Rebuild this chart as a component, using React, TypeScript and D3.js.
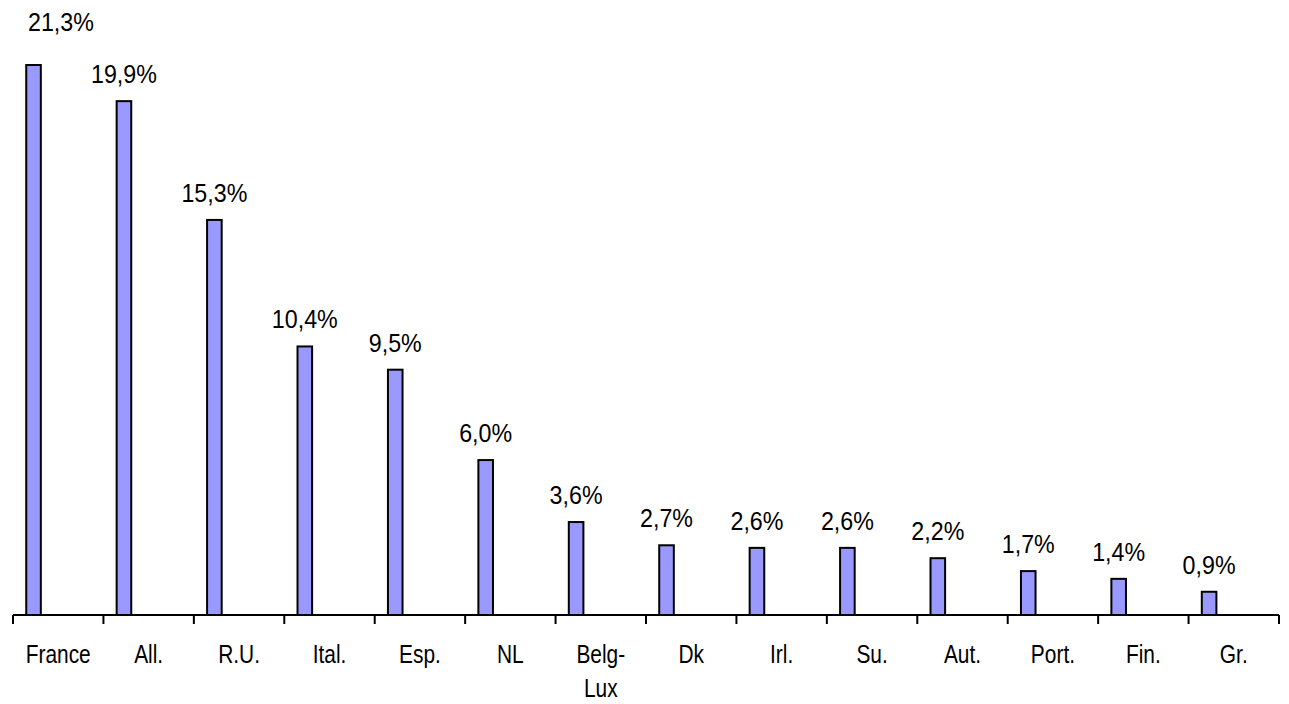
import React from "react";
import * as d3 from "d3";

// Share by country (%)
const categories: string[][] = [
  ["France"], ["All."], ["R.U."], ["Ital."], ["Esp."], ["NL"], ["Belg-", "Lux"],
  ["Dk"], ["Irl."], ["Su."], ["Aut."], ["Port."], ["Fin."], ["Gr."],
];
const values: number[] = [21.3, 19.9, 15.3, 10.4, 9.5, 6.0, 3.6, 2.7, 2.6, 2.6, 2.2, 1.7, 1.4, 0.9];
const valueLabels: string[] = ["21,3%", "19,9%", "15,3%", "10,4%", "9,5%", "6,0%", "3,6%", "2,7%", "2,6%", "2,6%", "2,2%", "1,7%", "1,4%", "0,9%"];

const W = 1289;
const H = 704;
const axisY = 615;
const left = 13;
const right = 1279;
const FONT = "'Liberation Sans', Arial, sans-serif";

export default function App() {
  const keys = categories.map((_, i) => String(i));
  const x = d3.scaleBand<string>().domain(keys).range([left, right]).padding(0);
  const y = d3.scaleLinear().domain([0, 21.3]).range([axisY, 65]);
  const bw = x.bandwidth();
  const barW = 14.6;
  const barOffset = bw * 0.227;
  const ticks = d3.range(categories.length + 1).map((i) => left + i * bw);

  return (
    <svg
      width={W}
      height={H}
      style={{ position: "absolute", left: 0, top: 0, display: "block", background: "#fff" }}
    >
      {values.map((v, i) => {
        const cx = (x(String(i)) as number) + barOffset;
        return (
          <rect
            key={"b" + i}
            x={cx - barW / 2}
            y={y(v)}
            width={barW}
            height={axisY - y(v)}
            fill="#9999FF"
            stroke="#000"
            strokeWidth={2}
          />
        );
      })}
      {values.map((v, i) => {
        const cx = (x(String(i)) as number) + barOffset;
        // the tallest bar's label is pushed into the top-left corner
        const first = i === 0;
        const tx = first ? 28 : cx;
        const ty = first ? 31 : y(v) - 18;
        return (
          <text
            key={"l" + i}
            transform={`translate(${tx},${ty}) scale(0.93,1)`}
            textAnchor={first ? "start" : "middle"}
            fontFamily={FONT}
            fontSize={25}
            fill="#000"
          >
            {valueLabels[i]}
          </text>
        );
      })}
      <line x1={left} x2={right} y1={axisY} y2={axisY} stroke="#000" strokeWidth={2} />
      {ticks.map((t, i) => (
        <line key={"t" + i} x1={t} x2={t} y1={axisY} y2={axisY + 9} stroke="#000" strokeWidth={2} />
      ))}
      {categories.map((lines, i) => {
        const cx = (x(String(i)) as number) + bw / 2;
        return (
          <text
            key={"c" + i}
            transform={`translate(${cx},663) scale(0.82,1)`}
            textAnchor="middle"
            fontFamily={FONT}
            fontSize={25.5}
            fill="#000"
          >
            {lines.map((s, j) => (
              <tspan key={j} x={0} y={j * 34}>
                {s}
              </tspan>
            ))}
          </text>
        );
      })}
    </svg>
  );
}
